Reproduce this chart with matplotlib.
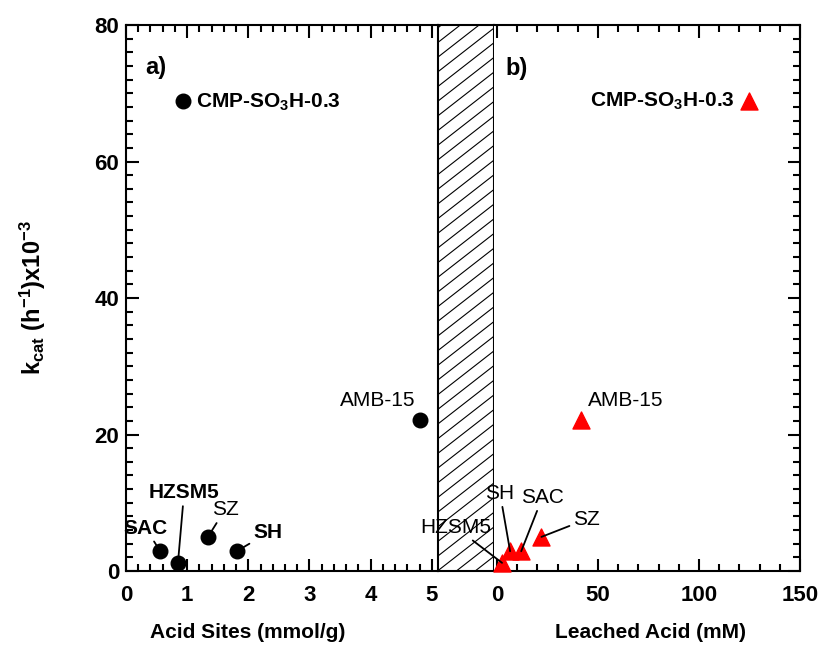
import matplotlib
matplotlib.use("Agg")
import numpy as np
import matplotlib.pyplot as plt
from matplotlib.ticker import MultipleLocator

plt.rcParams["font.family"] = ["Liberation Sans", "DejaVu Sans"]
plt.rcParams["mathtext.fontset"] = "custom"
plt.rcParams["mathtext.rm"] = "Liberation Sans:bold"
plt.rcParams["mathtext.it"] = "Liberation Sans:bold"
plt.rcParams["mathtext.bf"] = "Liberation Sans:bold"
plt.rcParams["mathtext.default"] = "rm"

# ── Data ─────────────────────────────────────────────────────────────────────
catalysts    = ["CMP-SO3H-0.3", "AMB-15", "SAC", "HZSM5", "SZ", "SH"]
kcat         = [68.8, 22.2, 2.9, 1.2, 5.0, 2.9]          # h^-1 x10^-3
acid_sites   = [0.93, 4.80, 0.56, 0.85, 1.34, 1.81]      # mmol/g
leached_acid = [125.0, 41.5, 12.0, 2.5, 22.0, 6.5]       # mM

# label positions (data coords), fontweight, draw leader line, alignment
left_labels = {
    "CMP-SO3H-0.3": ((1.14, 68.6), "bold", False, "left"),
    "AMB-15":       ((4.12, 25.0), "normal", False, "center"),
    "SAC":          ((0.32, 6.3), "bold", True, "center"),
    "HZSM5":        ((0.95, 11.5), "bold", True, "center"),
    "SZ":           ((1.62, 9.0), "normal", True, "center"),
    "SH":           ((2.32, 5.6), "bold", True, "center"),
}
right_labels = {
    "CMP-SO3H-0.3": ((117.5, 68.8), "bold", False, "right"),
    "AMB-15":       ((63.5, 25.0), "normal", False, "center"),
    "SAC":          ((22.5, 10.8), "normal", True, "center"),
    "HZSM5":        ((-20.5, 6.4), "normal", True, "center"),
    "SZ":           ((44.5, 7.6), "normal", True, "center"),
    "SH":           ((1.5, 11.4), "normal", True, "center"),
}

def pretty(name):
    return name.replace("SO3H", "SO$_3$H")

# ── Figure ───────────────────────────────────────────────────────────────────
fig = plt.figure(figsize=(8.26, 6.52), dpi=100, facecolor="white")
bot, hgt = 0.1242, 0.8374
ax_l = fig.add_axes([0.1525, bot, 0.3777, hgt])
ax_m = fig.add_axes([0.5302, bot, 0.0678, hgt])
ax_r = fig.add_axes([0.5980, bot, 0.3705, hgt])

for ax in (ax_l, ax_m, ax_r):
    ax.set_ylim(0, 80)
    for s in ax.spines.values():
        s.set_linewidth(1.5)

ax_l.set_xlim(0, 5.1)
ax_r.set_xlim(-1.5, 150)

# hatched break region: thin diagonal strokes, clipped to the middle axes
ax_m.set_xlim(0, 1)
rise, step = 6.4, 2.15
for y0 in np.arange(-rise, 80 + step, step):
    ax_m.plot([0, 1], [y0, y0 + rise], color="black", lw=0.8)
ax_m.set_xticks([])
ax_m.set_yticks([])

ax_l.spines["right"].set_visible(False)
ax_r.spines["left"].set_visible(False)

tick_kw = dict(direction="in", labelsize=16, width=1.5)
for ax in (ax_l, ax_r):
    ax.tick_params(axis="both", which="major", length=9, **tick_kw)
    ax.tick_params(axis="both", which="minor", length=5, **tick_kw)
    ax.tick_params(axis="x", which="major", pad=10)
    ax.tick_params(axis="y", which="major", pad=5)
ax_l.tick_params(top=True, right=False, which="both")
ax_r.tick_params(top=True, right=True, left=False, labelleft=False, which="both")

ax_l.xaxis.set_major_locator(MultipleLocator(1))
ax_l.xaxis.set_minor_locator(MultipleLocator(0.2))
ax_r.xaxis.set_major_locator(MultipleLocator(50))
ax_r.xaxis.set_minor_locator(MultipleLocator(10))
for ax in (ax_l, ax_r):
    ax.yaxis.set_major_locator(MultipleLocator(20))
    ax.yaxis.set_minor_locator(MultipleLocator(2))
    for lbl in ax.get_xticklabels() + ax.get_yticklabels():
        lbl.set_fontweight("bold")

# ── Points ───────────────────────────────────────────────────────────────────
ax_l.scatter(acid_sites, kcat, s=110, color="black", zorder=5, clip_on=False)
ax_r.scatter(leached_acid, kcat, s=150, marker="^", color="#ff0000",
             zorder=5, clip_on=False)

for ax, xs, labels in ((ax_l, acid_sites, left_labels),
                       (ax_r, leached_acid, right_labels)):
    for name, x, y in zip(catalysts, xs, kcat):
        (tx, ty), fw, line, ha = labels[name]
        arrow = dict(arrowstyle="-", color="black", lw=1.3,
                     shrinkA=1, shrinkB=0) if line else None
        ax.annotate(pretty(name), xy=(x, y), xytext=(tx, ty),
                    fontsize=15, fontweight=fw, ha=ha, va="center",
                    arrowprops=arrow, annotation_clip=False, zorder=6)

ax_l.text(0.31, 73.8, "a)", fontsize=17, fontweight="bold", va="center")
ax_r.text(4.0, 73.6, "b)", fontsize=17, fontweight="bold", va="center")

# ── Axis labels ──────────────────────────────────────────────────────────────
ax_l.set_ylabel(r"$\mathbf{k_{cat}\ (h^{-1})x10^{-3}}$", fontsize=17)
ax_l.yaxis.set_label_coords(-0.25, 0.5)
ax_l.set_xlabel("Acid Sites (mmol/g)", fontsize=15, fontweight="bold")
ax_l.xaxis.set_label_coords(0.39, -0.095)
ax_r.set_xlabel("Leached Acid (mM)", fontsize=15, fontweight="bold")
ax_r.xaxis.set_label_coords(0.51, -0.095)

plt.savefig("out.png", dpi=100, facecolor="white")
